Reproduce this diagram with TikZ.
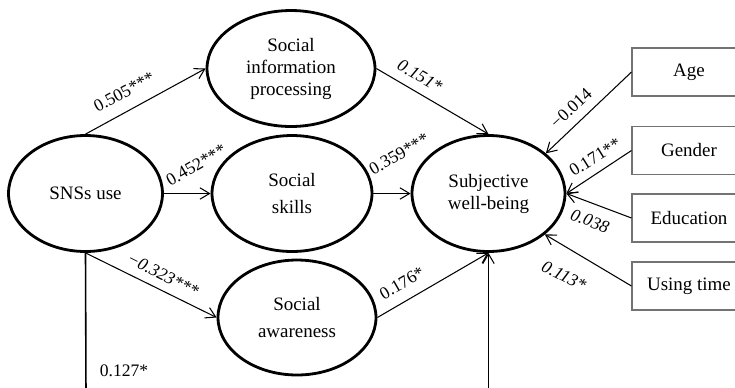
\documentclass[tikz,border=0pt]{standalone}
\usepackage{fontspec}
\setmainfont{Liberation Serif}
\usetikzlibrary{shapes.geometric,arrows.meta}

\begin{document}
\begin{tikzpicture}[x=0.02cm,y=-0.02cm]
\tikzstyle{every node}+=[inner sep=0pt]
\tikzstyle{factor}=[draw=black,ellipse,line width=1.6pt,align=center,minimum height=2.32cm,font=\fontsize{10.8}{12.5}\selectfont]
\tikzstyle{covar}=[draw=black!55,line width=0.6pt,minimum width=2.28cm,minimum height=0.96cm,font=\fontsize{10.8}{12.5}\selectfont]
\tikzstyle{path}=[draw=black,line width=0.6pt,-{Straight Barb[length=5.5pt,width=6.5pt]}]
\tikzstyle{coef}=[font=\fontsize{10}{12}\selectfont]
\clip (0,0) rectangle (735,387);
\node [factor,minimum width=3.08cm] (sns) at (85.5,193.5) {SNSs use};
\node [factor,minimum width=3.36cm] (sip) at (291,68.5) {Social\\information\\processing};
\node [factor,minimum width=3.2cm] (ss) at (292,193.5) {Social\\[2.3pt]skills};
\node [factor,minimum width=3.16cm,minimum height=2.3cm] (sa) at (297,317.5) {Social\\[3.4pt]awareness};
\node [factor,minimum width=3.06cm] (swb) at (488.5,193.5) {Subjective\\well-being};
\node [covar] (age) at (689,72) {Age};
\node [covar] (gender) at (689,150.5) {Gender};
\node [covar] (edu) at (689,218) {Education};
\node [covar] (time) at (689,286) {Using time};
\coordinate (snsbot) at (86,395);
\coordinate (swbbot) at (488.5,395);
\draw [path] (sns.north) -- (sip.west);
\draw [path] (sns.east) -- (ss.west);
\draw [path] (sns.south) -- (sa.west);
\draw [path] (sip.east) -- (swb.north);
\draw [path] (ss.east) -- (swb.west);
\draw [path] (sa.east) -- (swb.south);
\draw [draw=black,line width=0.9pt] (sns.south) -- (snsbot);
\draw [path] (swbbot) -- (swb.south);
\draw [path] (age.west) -- (swb.35);
\draw [path] (gender.west) -- (swb.east);
\draw [path] (edu.west) -- (swb.east);
\draw [path] (time.west) -- (swb.-36);
\node [coef,rotate=28] (c1) at (124,92) {0.505***};
\node [coef,rotate=30] (c2) at (196,165) {0.452***};
\node [coef,rotate=-27] (c3) at (163,275) {\itshape −0.323***};
\node [coef,rotate=-30] (c4) at (420,76) {\itshape 0.151*};
\node [coef,rotate=30] (c5) at (399,154) {0.359***};
\node [coef,rotate=30] (c6) at (402,283) {0.176*};
\node [coef,rotate=43] (c7) at (571,108) {−0.014};
\node [coef,rotate=32] (c8) at (595,157) {0.171**};
\node [coef,rotate=-21] (c9) at (590,221) {\itshape 0.038};
\node [coef,rotate=-27] (c10) at (564,276) {\itshape 0.113*};
\node [coef] (c11) at (124,371) {0.127*};
\end{tikzpicture}
\end{document}
